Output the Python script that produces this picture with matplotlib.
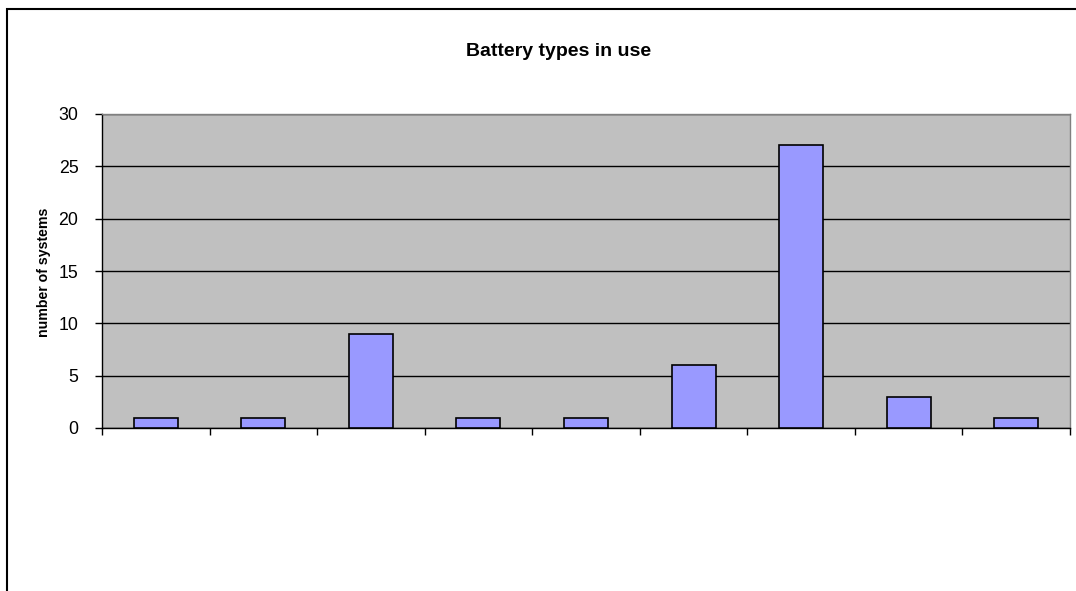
import matplotlib
matplotlib.use("Agg")
import matplotlib.pyplot as plt
from matplotlib.patches import Rectangle
import numpy as np

plt.rcParams['font.family'] = ['Liberation Sans', 'DejaVu Sans']

# one bar per battery type (no category names shown in the chart)
counts = [1, 1, 9, 1, 1, 6, 27, 3, 1]
yticks = [0, 5, 10, 15, 20, 25, 30]

fig = plt.figure(figsize=(10.76, 5.91), dpi=100)
ax = fig.add_axes([102 / 1076, 1 - 428 / 591, 968 / 1076, 314 / 591])

x = np.arange(len(counts))
ax.set_facecolor('#C0C0C0')
ax.bar(x, counts, width=0.41, color='#9999FF', edgecolor='black', linewidth=1.2, zorder=3)

ax.set_xlim(-0.5, len(counts) - 0.5)
ax.set_ylim(0, 30)
ax.set_yticks(yticks)
ax.yaxis.grid(True, color='black', linewidth=1.0, zorder=1)
ax.set_axisbelow(True)

ax.set_xticks(np.arange(len(counts) + 1) - 0.5)
ax.set_xticklabels([])
ax.tick_params(axis='x', direction='out', length=5, width=1)
ax.tick_params(axis='y', direction='out', length=5, width=1, labelsize=12.8, pad=12)

ax.spines['left'].set_color('black')
ax.spines['bottom'].set_color('black')
ax.spines['top'].set_color('#808080')
ax.spines['right'].set_color('#808080')
for s in ax.spines.values():
    s.set_linewidth(1.0)

ax.set_ylabel('number of systems', fontsize=10.2, fontweight='bold')
ax.yaxis.set_label_coords(-0.053, 0.495)
fig.text(559 / 1076, 1 - 51 / 591, 'Battery types in use',
         ha='center', va='center', fontsize=14, fontweight='bold')

# outer chart border
fig.patches.append(Rectangle((7 / 1076, -0.1), 1.1, 1 - 9 / 591 + 0.1,
                             transform=fig.transFigure, fill=False,
                             edgecolor='black', linewidth=1.5))

fig.savefig('out.png', dpi=100)
